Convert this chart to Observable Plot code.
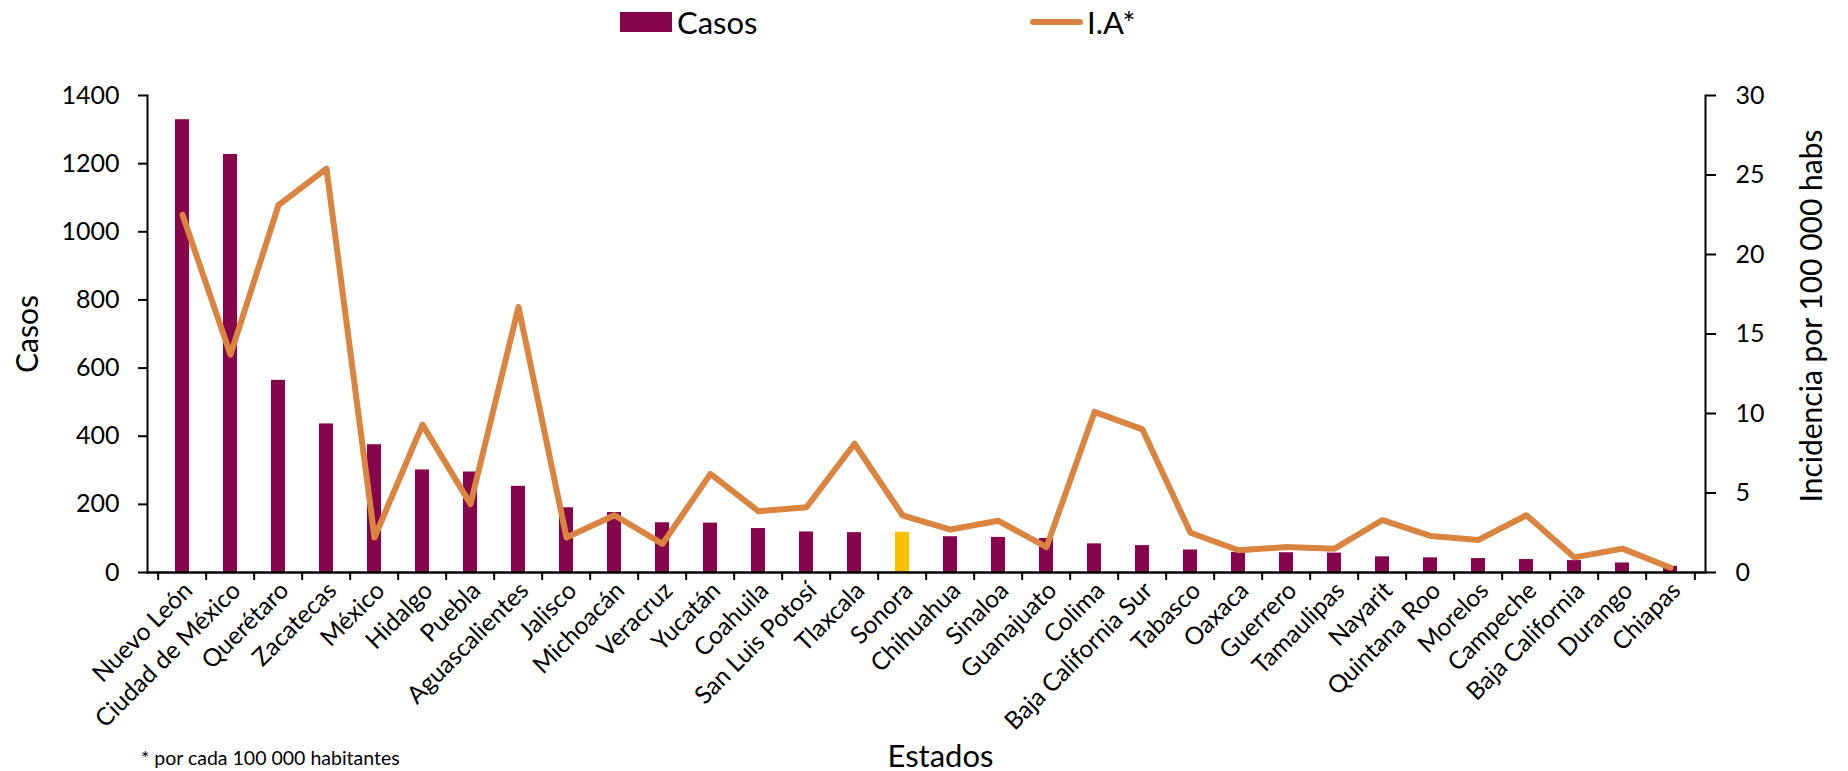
<!DOCTYPE html>
<html>
<head>
<meta charset="utf-8">
<script src="https://cdn.jsdelivr.net/npm/d3@7"></script>
<script src="https://cdn.jsdelivr.net/npm/@observablehq/plot@0.6"></script>
<style>
  html, body { margin: 0; padding: 0; background: #fff; }
  #wrap { position: relative; width: 1848px; height: 771px; font-family: Lato, sans-serif; color: #000; }
  .legend { position: absolute; top: 0; left: 0; width: 1848px; height: 44px; }
  .sw { position: absolute; }
  .lt { position: absolute; font-size: 31px; line-height: 44px; top: 0; }
  .foot { position: absolute; left: 141px; top: 746px; font-size: 19.5px; line-height: 24px; }
</style>
</head>
<body>
<div id="wrap">
  <div id="chart"></div>
  <div class="legend">
    <div class="sw" style="left:620px;top:12px;width:52px;height:20px;background:#87064B"></div>
    <div class="lt" id="lg1" style="left:677px"></div>
    <div class="sw" style="left:1030px;top:19px;width:53px;height:6px;border-radius:3px;background:#DA843F"></div>
    <div class="lt" id="lg2" style="left:1087px"></div>
  </div>
  <div class="foot" id="foot"></div>
</div>
<script>
const states = ["Nuevo León","Ciudad de México","Querétaro","Zacatecas","México","Hidalgo","Puebla","Aguascalientes","Jalisco","Michoacán","Veracruz","Yucatán","Coahuila","San Luis Potosí","Tlaxcala","Sonora","Chihuahua","Sinaloa","Guanajuato","Colima","Baja California Sur","Tabasco","Oaxaca","Guerrero","Tamaulipas","Nayarit","Quintana Roo","Morelos","Campeche","Baja California","Durango","Chiapas"];
const casos = [1329,1227,564,436,375,301,295,253,190,176,146,145,129,119,117,118,105,103,100,84,79,66,59,58,57,46,43,41,38,35,28,18];
const incidencia = [22.5,13.7,23.1,25.4,2.2,9.3,4.3,16.7,2.2,3.6,1.8,6.2,3.85,4.1,8.1,3.6,2.7,3.25,1.6,10.1,9.0,2.5,1.4,1.6,1.5,3.3,2.3,2.05,3.6,0.95,1.5,0.3];
const highlighted = "Sonora";
const casosTicks = [0,200,400,600,800,1000,1200,1400];
const iaTicks = [0,5,10,15,20,25,30];
const legendLabels = ["Casos","I.A*"];
const yTitle = "Casos";
const y2Title = "Incidencia por 100 000 habs";
const xTitle = "Estados";
const footnote = "* por cada 100 000 habitantes";

const data = states.map((s, i) => ({estado: s, casos: casos[i], ia: incidencia[i]}));
const K = casosTicks[casosTicks.length - 1] / iaTicks[iaTicks.length - 1];
const W = 1848, H = 771, mL = 147, mR = 143, mT = 95, mB = 199;
const step = (W - mL - mR) / states.length;

const chart = Plot.plot({
  width: W, height: H,
  marginTop: mT, marginBottom: mB, marginLeft: mL, marginRight: mR,
  style: {fontFamily: "Lato, sans-serif", color: "#000", background: "#fff", overflow: "visible"},
  x: {domain: states, paddingInner: 0.7, paddingOuter: 0.35},
  y: {domain: [0, 1400]},
  marks: [
    Plot.barY(data.filter(d => d.estado !== highlighted), {x: "estado", y: "casos", fill: "#87064B"}),
    Plot.barY(data.filter(d => d.estado === highlighted), {x: "estado", y: "casos", fill: "#FFC000"}),
    Plot.line(data, {x: "estado", y: d => d.ia * K, stroke: "#DA843F", strokeWidth: 6, strokeLinejoin: "round", strokeLinecap: "round"}),
    Plot.frame({anchor: "left", stroke: "#000", strokeWidth: 2}),
    Plot.frame({anchor: "right", stroke: "#000", strokeWidth: 2}),
    Plot.frame({anchor: "bottom", stroke: "#000", strokeWidth: 2.5}),
    Plot.axisY(casosTicks, {anchor: "left", tickSize: 9, tickPadding: 19, fontSize: 25, strokeWidth: 2, label: null, tickFormat: v => String(v)}),
    Plot.axisY(iaTicks.map(v => v * K), {anchor: "right", tickSize: 10, tickPadding: 20, fontSize: 25, strokeWidth: 2, label: null, tickFormat: v => String(Math.round(v / K))}),
    Plot.axisX(states, {anchor: "bottom", tickSize: 8, dx: -step / 2, text: null, strokeWidth: 2, label: null}),
    Plot.axisX(states.slice(-1), {anchor: "bottom", tickSize: 8, dx: step / 2, text: null, strokeWidth: 2, label: null}),
    Plot.axisX(states, {anchor: "bottom", tickSize: 0, tickRotate: -45, tickPadding: 14, dx: 6, fontSize: 24.5, label: null}),
    Plot.text([yTitle], {frameAnchor: "left", dx: -119, rotate: -90, textAnchor: "middle", fontSize: 30, text: d => d}),
    Plot.text([y2Title], {frameAnchor: "right", dx: 107, dy: -18, rotate: -90, textAnchor: "middle", fontSize: 30, text: d => d}),
    Plot.text([xTitle], {frameAnchor: "bottom", dy: 194, dx: 14, fontSize: 31, text: d => d})
  ]
});
document.getElementById("chart").appendChild(chart);
document.getElementById("lg1").textContent = legendLabels[0];
document.getElementById("lg2").textContent = legendLabels[1];
document.getElementById("foot").textContent = footnote;
</script>
</body>
</html>
